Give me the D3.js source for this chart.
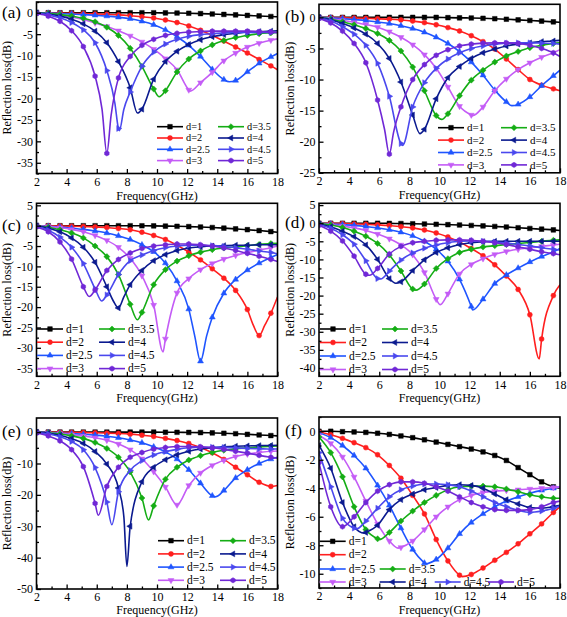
<!DOCTYPE html>
<html><head><meta charset="utf-8">
<script src="https://cdn.jsdelivr.net/npm/d3@7"></script>
<style>
body{margin:0;background:#fff}
svg{display:block}
text{font-family:"Liberation Serif","Times New Roman",serif;fill:#000}
</style>
</head><body>
<svg id="chart" width="567" height="617"></svg>
<script>
// ---------------- DATA ----------------
const seriesLabels = ["d=1","d=2","d=2.5","d=3","d=3.5","d=4","d=4.5","d=5"];
const xTickValues = [2,4,6,8,10,12,14,16,18];
// frequency grid (GHz) at which values were read (markers on all but the last)
const freqs = [2,2.78,3.56,4.33,5.11,5.89,6.67,7.44,8.22,9,9.78,10.56,11.33,12.11,12.89,13.67,14.44,15.22,16,16.78,17.56,18];

// (a)
const rlA = [
 [0,0,0,0,0,0,0,0,0,0,0,-0.05,-0.08,-0.12,-0.2,-0.3,-0.4,-0.5,-0.62,-0.75,-0.88,-0.95],
 [0,-0.05,-0.1,-0.15,-0.2,-0.28,-0.38,-0.5,-0.7,-0.95,-1.25,-1.7,-2.3,-3.1,-4.1,-5.3,-6.6,-8.0,-9.4,-10.9,-12.4,-13.3],
 [0,-0.1,-0.2,-0.3,-0.45,-0.6,-0.8,-1.05,-1.4,-2.0,-2.8,-4.0,-5.6,-7.6,-10.2,-13.2,-15.6,-15.8,-13.8,-11.8,-10.3,-9.5],
 [0,-0.3,-0.6,-1.0,-1.6,-2.4,-3.2,-4.2,-5.4,-6.8,-8.5,-10.7,-13.3,-18.0,-16.3,-13.9,-11.2,-9.4,-8.0,-7.1,-6.4,-6.1],
 [0,-0.2,-0.45,-0.8,-1.3,-2.1,-3.4,-5.3,-8.3,-12.5,-17.8,-18.2,-13.8,-10.8,-8.9,-7.5,-6.5,-5.8,-5.3,-4.9,-4.7,-4.6],
 [0,-0.3,-0.8,-1.5,-2.6,-4.3,-7.0,-11.4,-17.5,-22.5,-15.5,-11.4,-9.0,-7.4,-6.3,-5.6,-5.1,-4.8,-4.5,-4.4,-4.3,-4.2],
 [-0.1,-0.5,-1.2,-2.3,-4.0,-7.0,-13.5,-27.0,-18.5,-12.5,-9.2,-7.3,-6.2,-5.5,-5.1,-4.9,-4.7,-4.6,-4.6,-4.6,-4.6,-4.6],
 [-0.2,-0.8,-2.0,-4.2,-7.9,-14.8,-32.8,-15.2,-10.2,-7.6,-6.2,-5.3,-4.8,-4.5,-4.4,-4.3,-4.3,-4.3,-4.3,-4.4,-4.5,-4.6]
];
const dipsA = [[],[],[[14.8,-16.1]],[[12.2,-18.3]],[[10.15,-19.6]],[[8.7,-23.4]],[[7.2,-21],[7.5,-27.5],[7.8,-22.5]],[[6.35,-22.5],[6.95,-24]]];

// (b)
const rlB = [
 [0,0,0,0,0,0,0,0,0,0,0,-0.05,-0.08,-0.1,-0.15,-0.22,-0.3,-0.4,-0.5,-0.6,-0.72,-0.8],
 [0,-0.03,-0.06,-0.1,-0.15,-0.22,-0.3,-0.42,-0.6,-0.85,-1.2,-1.65,-2.2,-2.95,-3.9,-5.1,-6.7,-8.4,-10.0,-10.9,-11.5,-11.8],
 [0,-0.1,-0.2,-0.35,-0.5,-0.75,-1.0,-1.35,-1.8,-2.4,-3.2,-4.2,-5.5,-7.2,-9.3,-11.7,-13.6,-14.0,-12.8,-11.0,-9.4,-8.5],
 [0,-0.25,-0.5,-0.8,-1.15,-1.6,-2.3,-3.2,-4.4,-6.0,-8.2,-11.2,-14.3,-15.7,-14.4,-11.8,-9.9,-8.4,-7.3,-6.4,-5.7,-5.2],
 [0,-0.3,-0.7,-1.2,-1.8,-2.6,-3.7,-5.4,-8.0,-11.8,-15.8,-15.5,-12.6,-10.1,-8.5,-7.2,-6.2,-5.5,-4.9,-4.5,-4.2,-4.1],
 [0,-0.4,-1.0,-1.7,-2.7,-4.2,-6.6,-10.4,-15.7,-18.0,-13.1,-9.7,-7.9,-6.6,-5.7,-5.1,-4.6,-4.3,-4.1,-3.9,-3.8,-3.7],
 [-0.1,-0.6,-1.5,-2.7,-4.5,-7.4,-12.7,-20.3,-14.4,-10.5,-8.2,-6.7,-5.7,-5.0,-4.6,-4.3,-4.15,-4.1,-4.1,-4.15,-4.2,-4.3],
 [-0.2,-0.9,-2.2,-4.2,-7.3,-13.3,-22.0,-14.4,-10.0,-7.6,-6.1,-5.2,-4.6,-4.3,-4.15,-4.1,-4.1,-4.2,-4.5,-5.0,-5.7,-6.3]
];
const dipsB = [[],[],[[14.8,-14.2]],[[12.2,-15.8]],[[10.15,-16.4]],[[8.7,-18.7]],[[7.55,-20.6]],[[6.35,-18],[6.95,-18.5]]];

// (c)
const rlC = [
 [0,0,0,0,0,0,0,0,0,-0.02,-0.05,-0.1,-0.15,-0.22,-0.32,-0.45,-0.6,-0.78,-0.98,-1.2,-1.45,-1.6],
 [0,-0.03,-0.07,-0.12,-0.2,-0.3,-0.45,-0.7,-1.0,-1.6,-2.4,-3.4,-4.8,-6.5,-8.4,-10.6,-12.9,-15.9,-20.6,-27.0,-21.5,-17.5],
 [0,-0.15,-0.35,-0.6,-0.9,-1.3,-1.8,-2.5,-3.4,-4.7,-6.4,-9.2,-13.6,-20.5,-33.3,-22.5,-16.6,-13.2,-10.9,-9.2,-7.8,-7.1],
 [0,-0.2,-0.5,-0.9,-1.5,-2.4,-3.6,-5.3,-8.0,-12.3,-19.5,-27.8,-16.5,-13.0,-10.8,-9.3,-8.2,-7.3,-6.6,-6.0,-5.4,-5.0],
 [0,-0.4,-1.0,-1.8,-3.0,-5.0,-7.6,-12.0,-19.3,-21.3,-14.5,-10.8,-8.7,-7.4,-6.5,-5.9,-5.5,-5.2,-4.9,-4.6,-4.4,-4.3],
 [0,-0.6,-1.5,-3.0,-5.3,-9.0,-15.0,-20.2,-14.5,-11.0,-8.6,-7.1,-6.1,-5.5,-5.2,-5.0,-4.9,-4.8,-4.8,-4.7,-4.7,-4.7],
 [-0.2,-1.1,-2.8,-5.3,-9.3,-15.5,-17.0,-12.0,-8.6,-7.2,-6.1,-5.4,-5.0,-4.8,-4.8,-4.9,-5.1,-5.4,-5.8,-6.2,-6.6,-6.9],
 [-0.3,-1.5,-4.0,-8.2,-15.0,-15.8,-11.0,-8.3,-6.7,-5.6,-5.0,-4.7,-4.5,-4.5,-4.7,-5.0,-5.5,-6.1,-6.8,-7.5,-8.3,-8.8]
];
const dipsC = [[],[[16.4,-24.5],[17.15,-24.5]],[[12.5,-27],[13.3,-27]],[[10.4,-31]],[[8.7,-23.1]],[[7.1,-18.5],[7.8,-17.5]],[[6.33,-18.5]],[[5.5,-17.4]]];

// (d)
const rlD = [
 [0,0,0,0,0,0,-0.05,-0.1,-0.15,-0.22,-0.3,-0.4,-0.5,-0.62,-0.75,-0.9,-1.05,-1.25,-1.45,-1.65,-1.85,-2.0],
 [0,-0.05,-0.1,-0.2,-0.3,-0.45,-0.65,-0.95,-1.3,-1.9,-2.7,-3.8,-5.2,-7.0,-9.0,-11.5,-14.6,-18.3,-25.3,-32.0,-20.0,-17.0],
 [0,-0.2,-0.4,-0.6,-0.9,-1.3,-1.8,-2.5,-3.5,-5.0,-7.2,-10.5,-15.5,-23.0,-21.0,-16.7,-14.3,-12.4,-10.7,-9.2,-7.9,-7.0],
 [-0.1,-0.4,-0.8,-1.3,-2.0,-3.0,-4.3,-6.0,-8.7,-13.6,-21.0,-19.5,-14.0,-11.4,-9.8,-8.6,-7.8,-7.2,-6.8,-6.4,-6.0,-5.8],
 [0,-0.5,-1.2,-2.2,-3.6,-5.6,-8.8,-13.2,-18.2,-16.8,-12.5,-9.8,-8.1,-7.2,-6.6,-6.2,-5.9,-5.6,-5.3,-5.0,-4.7,-4.6],
 [-0.2,-1.0,-2.2,-3.7,-6.0,-10.0,-15.3,-16.2,-13.1,-10.1,-8.1,-6.8,-5.9,-5.4,-5.1,-5.0,-5.0,-5.0,-5.0,-5.0,-5.0,-5.0],
 [-0.4,-1.4,-3.2,-5.8,-10.4,-15.3,-13.2,-10.2,-8.2,-6.9,-6.0,-5.4,-5.0,-4.9,-5.0,-5.2,-5.5,-5.9,-6.3,-6.8,-7.2,-7.4],
 [-0.6,-2.2,-4.9,-9.1,-14.1,-12.5,-8.5,-6.4,-5.4,-5.0,-4.7,-4.6,-4.6,-4.7,-5.0,-5.4,-5.9,-6.5,-7.2,-7.9,-8.4,-8.7]
];
const dipsD = [[],[[16.62,-37.5]],[[12.2,-24.0]],[[10.05,-22.5]],[[8.44,-18.5]],[[7.1,-16.6]],[[6.1,-15.4]],[[5.35,-14.4]]];

// (e)
const rlE = [
 [0,0,0,0,0,0,0,0,0,0,0,-0.03,-0.06,-0.1,-0.15,-0.25,-0.35,-0.5,-0.7,-0.9,-1.1,-1.2],
 [0,-0.03,-0.06,-0.1,-0.15,-0.22,-0.32,-0.45,-0.65,-1.0,-1.4,-2.0,-2.7,-3.6,-4.9,-6.6,-8.7,-11.2,-13.6,-16.0,-17.3,-17.0],
 [0,-0.15,-0.3,-0.5,-0.7,-0.95,-1.3,-1.8,-2.5,-3.4,-4.7,-6.3,-8.6,-12.0,-16.3,-20.3,-18.6,-14.6,-12.0,-10.0,-8.6,-8.0],
 [0,-0.2,-0.45,-0.8,-1.25,-1.8,-2.6,-3.8,-5.6,-8.5,-12.6,-17.5,-23.2,-17.0,-13.0,-10.6,-9.0,-7.8,-7.0,-6.5,-6.1,-6.0],
 [0,-0.25,-0.6,-1.2,-2.0,-3.3,-5.2,-8.0,-12.7,-21.0,-23.5,-15.0,-11.2,-8.9,-7.5,-6.5,-5.8,-5.3,-5.0,-4.7,-4.5,-4.4],
 [0,-0.35,-1.0,-2.1,-3.6,-6.2,-10.2,-17.8,-30.0,-15.8,-11.2,-8.8,-7.2,-6.1,-5.4,-5.0,-4.7,-4.5,-4.4,-4.3,-4.25,-4.2],
 [-0.1,-0.6,-1.5,-3.0,-5.6,-11.3,-22.3,-19.0,-12.2,-9.1,-7.3,-6.2,-5.5,-5.0,-4.8,-4.8,-4.9,-5.0,-5.2,-5.3,-5.4,-5.4],
 [-0.3,-1.2,-2.8,-5.6,-11.0,-22.7,-17.3,-11.2,-8.0,-6.5,-5.4,-4.9,-4.6,-4.6,-4.7,-5.0,-5.5,-6.1,-6.7,-7.4,-8.0,-8.3]
];
const dipsE = [[],[],[[13.9,-20.6]],[],[[9.44,-28.0]],[[7.8,-27],[8.0,-42.8]],[[7.0,-29.5]],[[6.1,-26.5]]];

// (f)
const rlF = [
 [0,0,-0.03,-0.05,-0.08,-0.14,-0.22,-0.33,-0.45,-0.6,-0.76,-0.92,-1.08,-1.25,-1.45,-1.7,-2.05,-2.55,-3.05,-3.55,-3.9,-4.0],
 [-0.05,-0.25,-0.5,-0.8,-1.15,-1.65,-2.4,-3.3,-4.5,-5.8,-7.6,-9.1,-10.1,-10.05,-9.6,-9.05,-8.5,-7.9,-7.2,-6.5,-5.7,-5.3],
 [-0.1,-0.45,-1.0,-1.7,-2.6,-3.8,-5.2,-6.8,-8.3,-9.25,-9.0,-8.2,-7.2,-6.4,-5.8,-5.3,-4.9,-4.6,-4.35,-4.15,-4.0,-3.9],
 [-0.3,-0.85,-1.8,-3.2,-4.9,-6.5,-7.7,-8.15,-7.7,-6.9,-6.0,-5.3,-4.8,-4.5,-4.3,-4.2,-4.15,-4.1,-4.05,-4.0,-3.95,-3.9],
 [-0.4,-1.5,-3.2,-5.3,-6.9,-7.55,-7.1,-6.3,-5.6,-5.0,-4.5,-4.1,-3.9,-3.85,-3.85,-3.9,-4.05,-4.25,-4.45,-4.6,-4.7,-4.7],
 [-1.0,-2.6,-5.0,-6.7,-7.1,-6.6,-5.5,-4.8,-4.4,-4.1,-3.95,-3.8,-3.75,-3.8,-4.0,-4.4,-4.8,-5.1,-5.35,-5.4,-5.3,-5.2],
 [-1.5,-3.9,-6.1,-6.8,-6.3,-5.4,-4.6,-4.1,-3.85,-3.7,-3.7,-3.75,-3.9,-4.2,-4.6,-5.0,-5.3,-5.55,-5.7,-5.6,-5.4,-5.25],
 [-2.2,-5.3,-6.7,-6.0,-5.0,-4.2,-3.75,-3.55,-3.55,-3.65,-3.9,-4.2,-4.6,-5.0,-5.3,-5.5,-5.55,-5.55,-5.5,-5.3,-5.0,-4.9]
];
const dipsF = [[],[[11.5,-10.2]],[[9.05,-9.3]],[[7.25,-8.2]],[[6.0,-7.6]],[[5.0,-7.15]],[[4.5,-6.85]],[]];

// ---------------- STYLE / LAYOUT ----------------
const colors = ["#000000","#ff1f1f","#1f55ff","#c45cf6","#15ad15","#0b1a8f","#4a48ee","#7028d6"];
const symbolTypes = ["square","circle","triUp","triDown","diamond","triLeft","triRight","hex"];

const panels = [
 {tag:"(a)", data:rlA, dips:dipsA, x0:36.5, x1:277.5, yTop:2, yBot:173.5, dom:[-37.5,2.5], major:5, minor:2.5, labs:[-35,0],
  tickPad:4, titleDy:26, leg:{kind:"grid", c1:157, c2:218, y0:126.7, dy:11.3, fs:10.3}},
 {tag:"(b)", data:rlB, dips:dipsB, x0:319, x1:560, yTop:4.3, yBot:172.8, dom:[-25,2.1], major:5, minor:2.5, labs:[-25,0],
  tickPad:4, titleDy:26, leg:{kind:"grid", c1:438, c2:501, y0:127.7, dy:12.4, fs:11}},
 {tag:"(c)", data:rlC, dips:dipsC, x0:36.5, x1:277.5, yTop:203.3, yBot:376.3, dom:[-37,5.5], major:5, minor:2.5, labs:[-35,5],
  tickPad:4, titleDy:26, leg:{kind:"grid", c1:37, c2:99, y0:329, dy:13.2, fs:11.5}},
 {tag:"(d)", data:rlD, dips:dipsD, x0:319, x1:560, yTop:203.3, yBot:376.3, dom:[-42.3,5.5], major:5, minor:2.5, labs:[-40,5],
  tickPad:4, titleDy:26, leg:{kind:"grid", c1:320, c2:382, y0:329, dy:13.5, fs:11.5}},
 {tag:"(e)", data:rlE, dips:dipsE, x0:36.5, x1:277.5, yTop:418, yBot:589, dom:[-50,4.5], major:10, minor:5, labs:[-50,0],
  tickPad:3, titleDy:25, leg:{kind:"grid", c1:158, c2:220, y0:540.7, dy:13.2, fs:11.5}},
 {tag:"(f)", data:rlF, dips:dipsF, x0:319, x1:560, yTop:417, yBot:588, dom:[-11,1], major:2, minor:1, labs:[-10,0],
  tickPad:3, titleDy:25.5, leg:{kind:"free", fs:11.5, pos:[[319.7,541.3],[319.7,554.7],[319.7,569],[319.7,582],[379.7,569],[379.7,582],[434.7,582],[488,582]]}}
];

function symbolPath(type, s) {
  const p = d3.path();
  const tri = (angle) => {
    const r = s * 0.62;
    for (let k = 0; k < 3; k++) {
      const a = angle + k * 2 * Math.PI / 3;
      const px = r * Math.cos(a), py = r * Math.sin(a);
      if (k === 0) p.moveTo(px, py); else p.lineTo(px, py);
    }
    p.closePath();
  };
  switch (type) {
    case "square": { const h = s*0.42; p.rect(-h,-h,2*h,2*h); break; }
    case "circle": p.arc(0,0,s*0.45,0,2*Math.PI); break;
    case "triUp": tri(-Math.PI/2); break;
    case "triDown": tri(Math.PI/2); break;
    case "triLeft": tri(Math.PI); break;
    case "triRight": tri(0); break;
    case "diamond": { const h = s*0.55; p.moveTo(0,-h); p.lineTo(h,0); p.lineTo(0,h); p.lineTo(-h,0); p.closePath(); break; }
    case "hex": { const r = s*0.48; for (let k=0;k<6;k++){const a=Math.PI/6+k*Math.PI/3; if(k===0)p.moveTo(r*Math.cos(a),r*Math.sin(a)); else p.lineTo(r*Math.cos(a),r*Math.sin(a));} p.closePath(); break; }
  }
  return p.toString();
}

const svg = d3.select("#chart");
const defs = svg.append("defs");
const FONT = "'Liberation Serif','Times New Roman',serif";
const MS = 5.5; // marker size
const LW = 1.6; // line width

panels.forEach((p, pi) => {
  const x = d3.scaleLinear().domain([2,18]).range([p.x0, p.x1]);
  const y = d3.scaleLinear().domain(p.dom).range([p.yBot, p.yTop]);
  const g = svg.append("g");
  const clipId = "clip" + pi;
  defs.append("clipPath").attr("id", clipId).append("rect")
    .attr("x", p.x0).attr("y", p.yTop).attr("width", p.x1 - p.x0).attr("height", p.yBot - p.yTop);

  // series
  const plot = g.append("g").attr("clip-path", `url(#${clipId})`);
  const line = d3.line().x(d => x(d[0])).y(d => y(d[1])).curve(d3.curveMonotoneX);
  p.data.forEach((vals, i) => {
    const pts = freqs.map((f, j) => [f, vals[j]]).concat(p.dips[i]).sort((a, b) => a[0] - b[0]);
    plot.append("path").attr("d", line(pts)).attr("fill", "none")
      .attr("stroke", colors[i]).attr("stroke-width", LW).attr("stroke-linejoin", "round");
    const mpts = freqs.slice(0, freqs.length - 1).map((f, j) => [f, vals[j]]);
    plot.selectAll(null).data(mpts).enter().append("path")
      .attr("d", symbolPath(symbolTypes[i], MS))
      .attr("transform", d => `translate(${x(d[0])},${y(d[1])})`)
      .attr("fill", colors[i]).attr("stroke", colors[i]).attr("stroke-width", 0.5);
  });

  // axes
  const majorY = d3.range(p.labs[0], p.labs[1] + 0.001, p.major);
  const minorY = d3.range(Math.ceil(p.dom[0]/p.minor)*p.minor, p.dom[1] + 0.001, p.minor)
    .filter(v => !majorY.some(m => Math.abs(m - v) < 1e-6));
  const minorX = d3.range(3, 18, 2);

  g.append("g").attr("transform", `translate(0,${p.yBot})`)
    .call(d3.axisBottom(x).tickValues(xTickValues).tickSize(-4.5).tickPadding(p.tickPad).tickFormat(d => String(d)));
  g.append("g").attr("transform", `translate(0,${p.yBot})`)
    .call(d3.axisBottom(x).tickValues(minorX).tickSize(-2.5).tickFormat(""));
  g.append("g").attr("transform", `translate(${p.x0},0)`)
    .call(d3.axisLeft(y).tickValues(majorY).tickSize(-4.5).tickPadding(3.5).tickFormat(d => String(d)));
  g.append("g").attr("transform", `translate(${p.x0},0)`)
    .call(d3.axisLeft(y).tickValues(minorY).tickSize(-2.5).tickFormat(""));
  g.selectAll(".domain").remove();
  g.selectAll(".tick line").attr("stroke", "#000").attr("stroke-width", 1.3);
  g.selectAll(".tick text").attr("font-family", FONT).attr("font-size", 12).attr("fill", "#000");

  // frame
  g.append("rect").attr("x", p.x0).attr("y", p.yTop).attr("width", p.x1 - p.x0).attr("height", p.yBot - p.yTop)
    .attr("fill", "none").attr("stroke", "#000").attr("stroke-width", 1.6);

  // titles
  const leftEdge = p.x0 < 100 ? 0 : 283;
  g.append("text").attr("x", (p.x0 + p.x1) / 2).attr("y", p.yBot + p.titleDy).attr("text-anchor", "middle")
    .attr("font-size", 12).text("Frequency(GHz)");
  g.append("text").attr("transform", `translate(${leftEdge + 11},${(p.yTop + p.yBot) / 2}) rotate(-90)`)
    .attr("text-anchor", "middle").attr("font-size", 12).text("Reflection loss(dB)");
  g.append("text").attr("x", leftEdge + 2).attr("y", y(0) + 5).attr("font-size", 17).text(p.tag);

  // legend
  const lg = g.append("g");
  seriesLabels.forEach((lab, i) => {
    let lx, ly;
    if (p.leg.kind === "grid") {
      lx = i < 4 ? p.leg.c1 : p.leg.c2;
      ly = p.leg.y0 + (i % 4) * p.leg.dy;
    } else { lx = p.leg.pos[i][0]; ly = p.leg.pos[i][1]; }
    lg.append("line").attr("x1", lx).attr("x2", lx + 26).attr("y1", ly).attr("y2", ly)
      .attr("stroke", colors[i]).attr("stroke-width", LW);
    lg.append("path").attr("d", symbolPath(symbolTypes[i], MS)).attr("transform", `translate(${lx + 13},${ly})`)
      .attr("fill", colors[i]).attr("stroke", colors[i]).attr("stroke-width", 0.5);
    lg.append("text").attr("x", lx + 29).attr("y", ly + p.leg.fs * 0.33).attr("font-size", p.leg.fs).text(lab);
  });
});
</script>
</body></html>
